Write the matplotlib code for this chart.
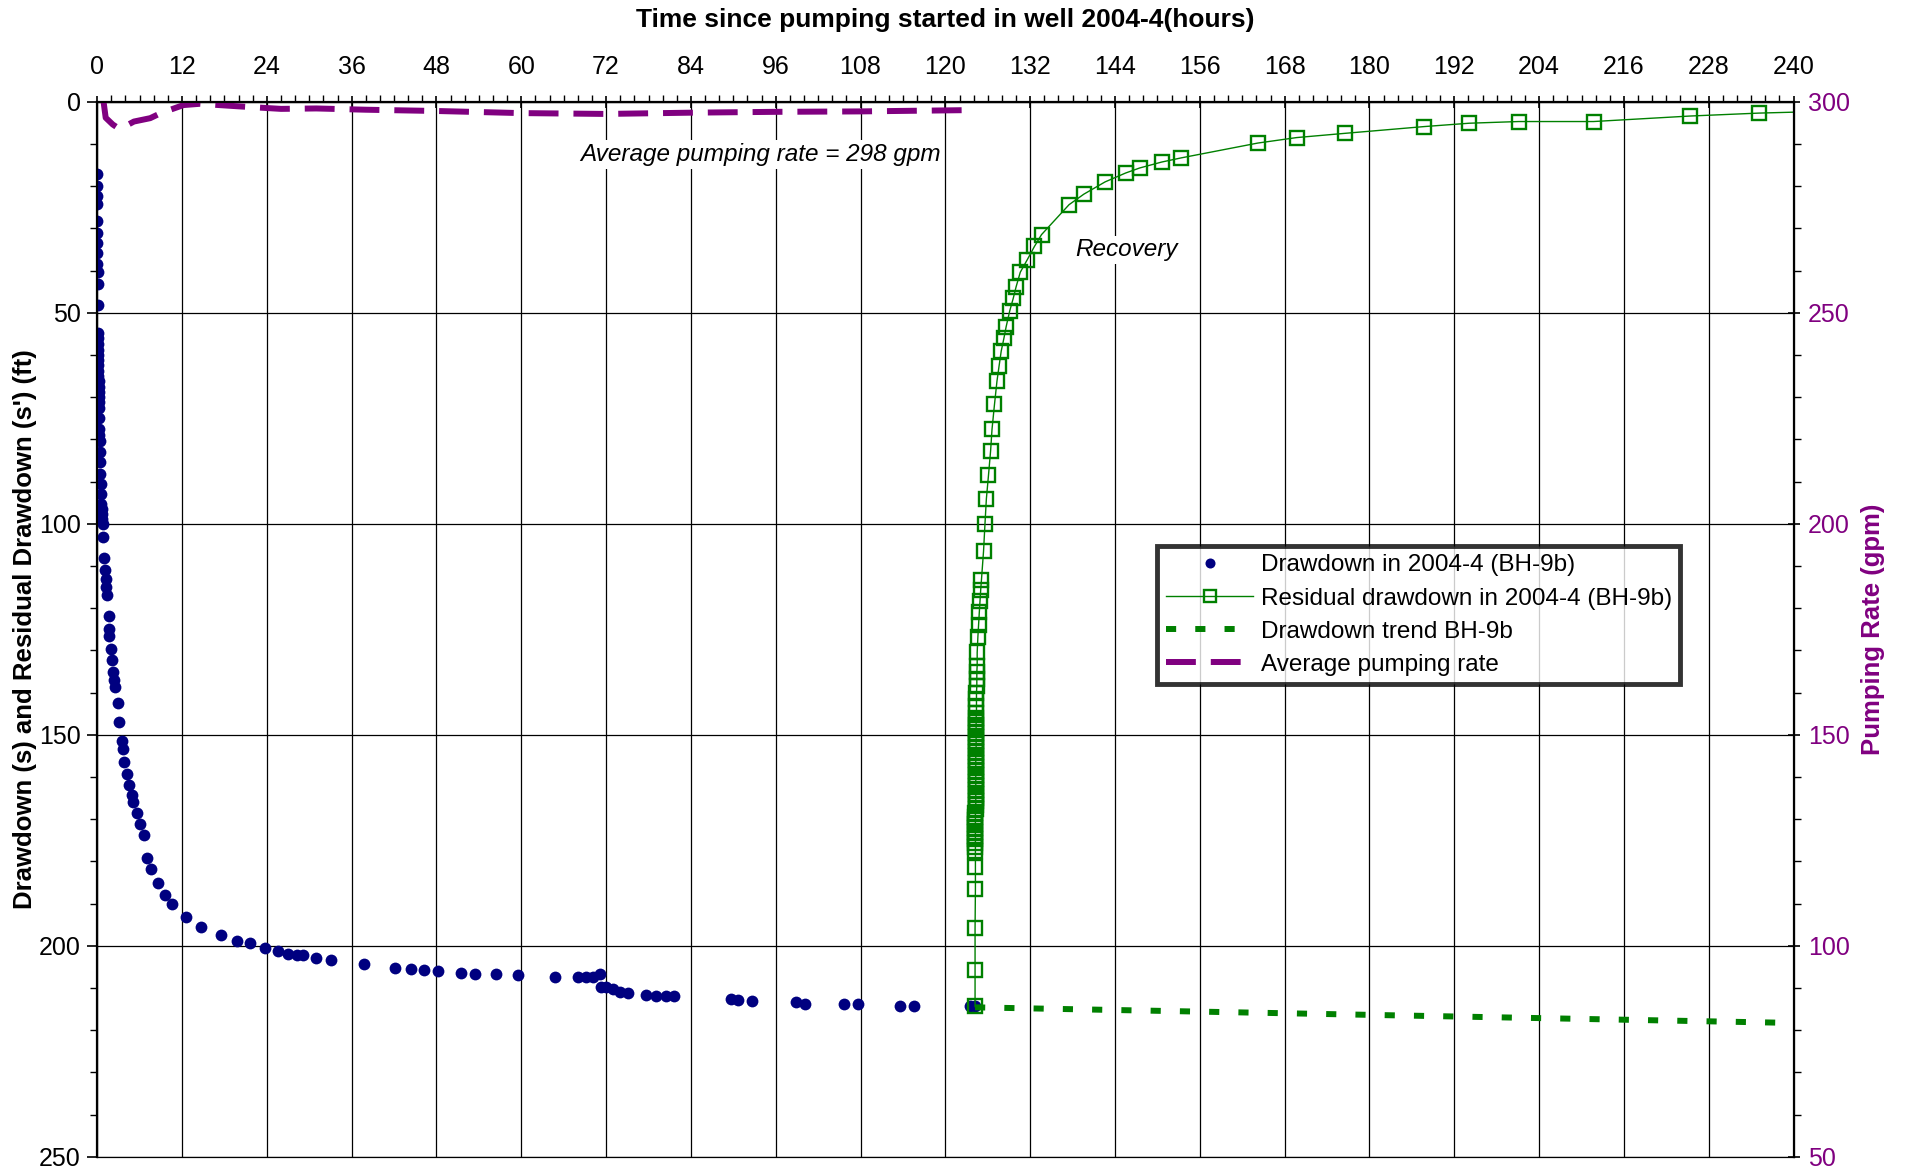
import numpy as np
import matplotlib.pyplot as plt
from matplotlib.ticker import MultipleLocator

plt.rcParams['font.family'] = ['Liberation Sans', 'DejaVu Sans']

# drawdown during pumping, well 2004-4 (BH-9b)
t_draw = [0.02, 0.02, 0.02, 0.03, 0.03, 0.03, 0.04, 0.04, 0.04, 0.05, 0.05, 0.06,
          0.1, 0.11, 0.12, 0.13, 0.14, 0.15, 0.16, 0.17, 0.18, 0.19, 0.2, 0.21, 0.22,
          0.23, 0.24, 0.27, 0.3, 0.32, 0.34, 0.36, 0.4, 0.44, 0.48, 0.52, 0.58, 0.62,
          0.66, 0.7, 0.76, 0.8, 1.0, 1.1, 1.2, 1.25, 1.4, 1.6, 1.7, 1.73, 1.9, 2.1,
          2.3, 2.4, 2.5, 2.9, 3.08, 3.46, 3.6, 3.83, 4.2, 4.45, 4.88, 5.06, 5.63,
          6.1, 6.62, 7.1, 7.6, 8.6, 9.65, 10.6, 12.6, 14.7, 17.5, 19.8, 21.6, 23.8,
          25.6, 27.0, 28.2, 29.1, 31.0, 33.05, 37.7, 42.2, 44.4, 46.2, 48.2, 51.5,
          53.4, 56.4, 59.5, 64.7, 68.0, 69.2, 70.1, 71.2, 71.3, 72.0, 73.0, 74.0,
          75.1, 77.6, 79.1, 80.5, 81.6, 89.6, 90.7, 92.6, 98.8, 100.1, 105.7, 107.6,
          113.6, 115.5, 123.5, 124.2]
s_draw = [17.2, 20.0, 22.4, 24.2, 28.2, 31.1, 33.5, 35.8, 38.4, 40.4, 43.2, 48.1,
          54.7, 56.0, 57.5, 58.8, 60.0, 61.3, 62.5, 63.8, 65.0, 66.2, 67.5, 68.8,
          70.0, 71.2, 72.5, 75.0, 77.6, 78.9, 80.3, 83.0, 85.4, 88.2, 90.6, 93.0,
          95.3, 96.5, 97.7, 98.8, 100.0, 103.2, 108.1, 111.0, 113.0, 115.0, 117.0,
          121.9, 125.0, 126.6, 129.7, 132.3, 135.2, 137.0, 138.8, 142.6, 147.0,
          151.4, 153.4, 156.5, 159.3, 161.9, 164.4, 165.9, 168.5, 171.1, 173.8,
          179.3, 181.8, 185.2, 188.0, 190.1, 193.1, 195.6, 197.5, 198.9, 199.4,
          200.6, 201.3, 201.9, 202.3, 202.3, 203.0, 203.4, 204.4, 205.3, 205.6,
          205.8, 206.1, 206.5, 206.8, 206.8, 206.9, 207.5, 207.5, 207.5, 207.4,
          206.8, 209.7, 209.9, 210.3, 210.9, 211.1, 211.6, 211.9, 212.0, 212.0,
          212.7, 212.9, 213.2, 213.4, 213.7, 213.7, 213.7, 214.2, 214.2, 214.4, 214.4]

# residual drawdown during recovery (early, dense, late parts)
t_res_early = [124.2, 124.2, 124.2, 124.25, 124.25]
s_res_early = [214.4, 205.8, 195.9, 186.5, 181.4]
t_res_dense = [124.25, 124.25, 124.25, 124.25, 124.25, 124.25, 124.25, 124.25,
               124.25, 124.25, 124.25, 124.3, 124.3, 124.3, 124.3, 124.3, 124.3,
               124.3, 124.3, 124.3, 124.3, 124.3, 124.3, 124.3, 124.3, 124.3,
               124.3, 124.35, 124.35, 124.35, 124.35, 124.35, 124.35, 124.35,
               124.35, 124.35, 124.4, 124.4, 124.4, 124.4, 124.45, 124.45, 124.45,
               124.5]
s_res_dense = [177.5, 176.6, 175.7, 174.8, 173.9, 173.0, 172.1, 171.2, 170.3,
               169.4, 168.5, 167.6, 166.7, 165.8, 164.9, 164.0, 163.1, 162.2,
               161.3, 160.4, 159.5, 158.6, 157.7, 156.8, 155.9, 155.0, 154.1,
               153.2, 152.3, 151.4, 150.5, 149.6, 148.7, 147.8, 146.9, 146.0,
               144.8, 143.2, 141.6, 140.0, 138.4, 136.8, 135.2, 133.6]
t_res_late = [124.5, 124.6, 124.7, 124.8, 124.9, 125.0, 125.1, 125.4, 125.6, 125.8,
              126.1, 126.4, 126.6, 126.95, 127.3, 127.6, 127.9, 128.3, 128.6, 129.1,
              129.6, 130.0, 130.6, 131.6, 132.6, 133.6, 137.5, 139.6, 142.6, 145.5,
              147.5, 150.6, 153.4, 164.2, 169.7, 176.5, 187.7, 194.1, 201.1, 211.7,
              225.3, 235.1, 244.0]
s_res_late = [130.5, 126.8, 123.9, 121.0, 118.3, 115.6, 113.4, 106.5, 100.1, 94.1,
              88.5, 82.7, 77.6, 71.7, 66.2, 62.6, 59.1, 55.9, 53.3, 49.6, 46.6, 43.9,
              40.4, 37.4, 34.3, 31.5, 24.4, 21.9, 19.0, 16.9, 15.7, 14.3, 13.3, 9.8,
              8.5, 7.5, 5.9, 5.1, 4.7, 4.7, 3.4, 2.7, 2.3]
t_res = t_res_early + t_res_dense + t_res_late
s_res = s_res_early + s_res_dense + s_res_late

# extrapolated drawdown trend
t_trend = [124.2, 240.0]
s_trend = [214.6, 218.3]

# pumping rate
t_q = [0.9, 1.2, 2.2, 3.1, 4.3, 5.2, 7.5, 9.0, 12.2, 14.5, 20, 26, 31, 38, 48, 60,
       72, 84, 96, 108, 123]
q = [300, 296.2, 294.6, 293.6, 294.5, 295.3, 296.1, 297.3, 299.2, 299.5, 298.9,
     298.3, 298.4, 298.1, 297.8, 297.3, 297.1, 297.4, 297.6, 297.7, 298.0]

navy = "#000080"
green = "#008000"
purple = "#800080"

fig = plt.figure(figsize=(19.06, 11.69), dpi=100)
ax = fig.add_axes([0.051, 0.0105, 0.890, 0.9025])

ax.set_xlim(0, 240)
ax.set_ylim(250, 0)
ax.xaxis.set_major_locator(MultipleLocator(12))
ax.xaxis.set_minor_locator(MultipleLocator(2))
ax.yaxis.set_major_locator(MultipleLocator(50))
ax.yaxis.set_minor_locator(MultipleLocator(10))
ax.xaxis.tick_top()
ax.xaxis.set_label_position("top")
ax.grid(True, which="major", color="black", linewidth=0.9)
ax.set_axisbelow(True)

ax.plot(t_draw, s_draw, "o", color=navy, markersize=8.5, markeredgewidth=0,
        label="Drawdown in 2004-4 (BH-9b)", zorder=3)
ax.plot(t_res, s_res, "-s", color=green, linewidth=1, markersize=9.5,
        markerfacecolor="none", markeredgewidth=1.7,
        label="Residual drawdown in 2004-4 (BH-9b)", zorder=4)
ax.plot(t_trend, s_trend, color=green, linewidth=4.3, dashes=(1.7, 3.2),
        dash_capstyle="butt", label="Drawdown trend BH-9b", zorder=4)

ax.set_xlabel("Time since pumping started in well 2004-4(hours)", fontsize=19,
              fontweight="bold", labelpad=20)
ax.set_ylabel("Drawdown (s) and Residual Drawdown (s') (ft)", fontsize=18.5,
              fontweight="bold", labelpad=1)

ax.tick_params(axis="x", which="major", direction="inout", length=9, width=1.2,
               labelsize=18, pad=12)
ax.tick_params(axis="x", which="minor", direction="out", length=5, width=1.0)
ax.tick_params(axis="y", which="major", direction="out", length=7, width=1.2,
               labelsize=18, pad=5)
ax.tick_params(axis="y", which="minor", direction="out", length=5, width=1.0)
for side in ["top", "left"]:
    ax.spines[side].set_linewidth(1.6)
ax.spines["bottom"].set_linewidth(0.8)

ax.text(93.8, 12.5, "Average pumping rate = 298 gpm", fontsize=17.5, style="italic",
        ha="center", va="center",
        bbox=dict(facecolor="white", edgecolor="none", pad=2), zorder=2)
ax.text(145.6, 35.1, "Recovery", fontsize=17.5, style="italic",
        ha="center", va="center",
        bbox=dict(facecolor="white", edgecolor="none", pad=2), zorder=2)

ax2 = ax.twinx()
ax2.set_ylim(50, 300)
ax2.yaxis.set_major_locator(MultipleLocator(50))
ax2.yaxis.set_minor_locator(MultipleLocator(10))
ax2.plot(t_q, q, color=purple, linewidth=4.3, dashes=(5, 2.5),
         label="Average pumping rate")
ax2.set_ylabel("Pumping Rate (gpm)", fontsize=18.5, fontweight="bold",
               color=purple, labelpad=8)
ax2.tick_params(axis="y", which="major", direction="inout", length=9, width=1.2,
                labelsize=18, labelcolor=purple, pad=6)
ax2.tick_params(axis="y", which="minor", direction="out", length=5, width=1.0)
ax2.spines["right"].set_linewidth(1.6)

h1, l1 = ax.get_legend_handles_labels()
h2, l2 = ax2.get_legend_handles_labels()
leg = ax2.legend(h1 + h2, l1 + l2, loc="upper left", bbox_to_anchor=(0.625, 0.579),
                 borderaxespad=0, fontsize=17.5, frameon=True, fancybox=False,
                 handlelength=3.6, labelspacing=0.46, borderpad=0.35,
                 handletextpad=0.3, markerscale=0.85)
leg.get_frame().set_edgecolor("black")
leg.get_frame().set_linewidth(3.5)

fig.savefig("out.png", dpi=100)
